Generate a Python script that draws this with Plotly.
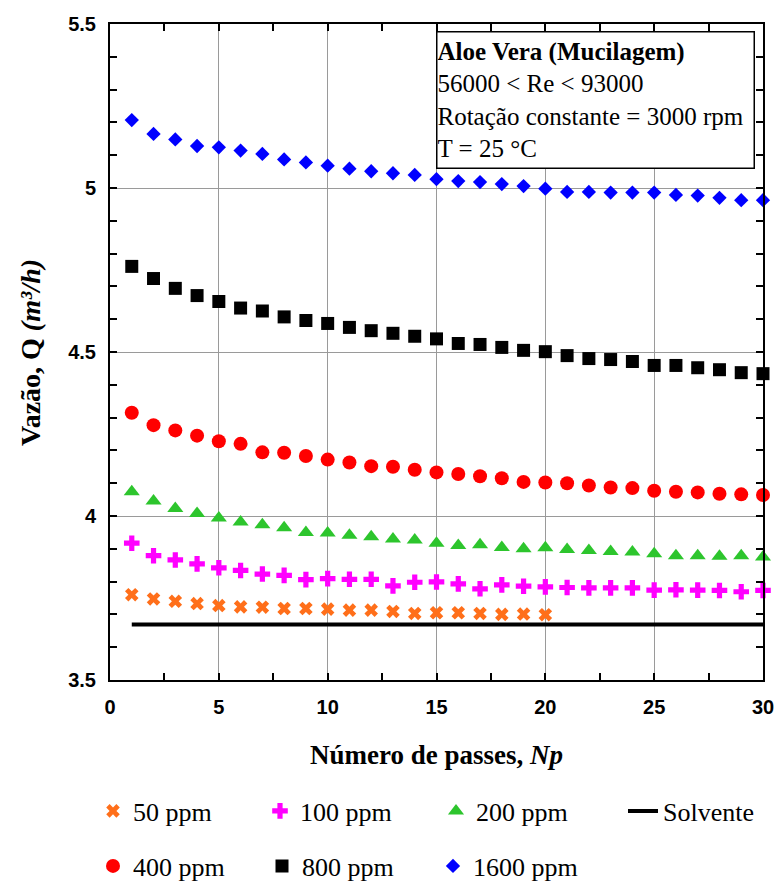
import plotly.graph_objects as go

np_passes = list(range(1, 31))
np_50 = list(range(1, 21))

q_50 = [3.760, 3.747, 3.740, 3.733, 3.727, 3.723, 3.722, 3.718, 3.718, 3.716,
        3.713, 3.713, 3.709, 3.703, 3.705, 3.705, 3.703, 3.700, 3.701, 3.699]
q_100 = [3.917, 3.879, 3.866, 3.854, 3.842, 3.834, 3.823, 3.819, 3.806, 3.809,
         3.807, 3.807, 3.787, 3.798, 3.799, 3.793, 3.778, 3.790, 3.786, 3.784,
         3.782, 3.781, 3.781, 3.781, 3.774, 3.775, 3.774, 3.773, 3.769, 3.773]
q_200 = [4.074, 4.046, 4.023, 4.008, 3.994, 3.982, 3.973, 3.964, 3.950, 3.948,
         3.941, 3.937, 3.930, 3.927, 3.917, 3.910, 3.912, 3.904, 3.900, 3.903,
         3.898, 3.895, 3.892, 3.890, 3.885, 3.879, 3.879, 3.877, 3.879, 3.875]
q_400 = [4.315, 4.277, 4.261, 4.245, 4.228, 4.220, 4.194, 4.193, 4.183, 4.172,
         4.163, 4.152, 4.150, 4.141, 4.133, 4.128, 4.121, 4.115, 4.104, 4.102,
         4.100, 4.093, 4.087, 4.085, 4.077, 4.074, 4.072, 4.068, 4.066, 4.064]
q_800 = [4.761, 4.724, 4.694, 4.672, 4.654, 4.634, 4.625, 4.607, 4.596, 4.587,
         4.575, 4.565, 4.557, 4.548, 4.540, 4.526, 4.523, 4.514, 4.505, 4.501,
         4.489, 4.480, 4.477, 4.471, 4.459, 4.459, 4.452, 4.446, 4.437, 4.434]
q_1600 = [5.207, 5.165, 5.148, 5.128, 5.124, 5.114, 5.104, 5.087, 5.078, 5.068,
          5.059, 5.051, 5.045, 5.040, 5.027, 5.021, 5.018, 5.012, 5.006, 4.998,
          4.988, 4.988, 4.986, 4.986, 4.986, 4.979, 4.977, 4.970, 4.963, 4.963]
solvente_np = [1, 30]
solvente_q = [3.669, 3.669]

x_ticks = [0, 5, 10, 15, 20, 25, 30]
y_ticks = [3.5, 4, 4.5, 5, 5.5]
y_ticklabels = ["3.5", "4", "4.5", "5", "5.5"]

W, H = 774, 885
L, R, T, B = 110, 11, 24, 205
pw, ph = W - L - R, H - T - B

def px_x(p):
    return (p - L) / pw

def px_y(p):
    return (H - B - p) / ph

serif = "Liberation Serif, Times New Roman, serif"
sans = "Liberation Sans, Arial, sans-serif"

fig = go.Figure()

series = [
    ("50 ppm", np_50, q_50, dict(symbol="x", size=12, color="#FF6F1A"), "legend", 110, 811),
    ("100 ppm", np_passes, q_100, dict(symbol="cross", size=13, color="#FF00FF"), "legend2", 277, 811),
    ("200 ppm", np_passes, q_200, dict(symbol="triangle-up", size=14, color="#2DC52D"), "legend3", 453, 811),
    ("400 ppm", np_passes, q_400, dict(symbol="circle", size=14, color="#FF0000"), "legend5", 110, 866),
    ("800 ppm", np_passes, q_800, dict(symbol="square", size=13, color="#000000"), "legend6", 279, 866),
    ("1600 ppm", np_passes, q_1600, dict(symbol="diamond", size=11, color="#0000FF"), "legend7", 450, 866),
]

legend_defs = {}
for name, xs, ys, mk, lg, lx, ly in series:
    fig.add_trace(go.Scatter(x=xs, y=ys, mode="markers", name=name,
                             marker=dict(line=dict(width=0), **mk), legend=lg,
                             cliponaxis=False))
    legend_defs[lg] = (lx, ly)

fig.add_trace(go.Scatter(x=solvente_np, y=solvente_q, mode="lines", name="Solvente",
                         line=dict(color="black", width=4), legend="legend4"))
legend_defs["legend4"] = (640, 811)

layout_legends = {}
for lg, (lx, ly) in legend_defs.items():
    layout_legends[lg] = dict(
        x=px_x(lx - 17), y=px_y(ly), xanchor="left", yanchor="middle",
        orientation="h", bgcolor="rgba(0,0,0,0)", borderwidth=0,
        font=dict(family=serif, size=26, color="black"),
        itemwidth=30,
    )

axis_common = dict(
    showline=True, linecolor="black", linewidth=2, mirror="allticks",
    ticks="inside", ticklen=7, tickwidth=1.5, tickcolor="black",
    showgrid=True, gridcolor="#9a9a9a", gridwidth=1, zeroline=False,
    automargin=False, ticklabeloverflow="allow",
    tickfont=dict(family=sans, size=20, color="black", weight="bold"),
)

fig.update_layout(
    width=W, height=H,
    margin=dict(l=L, r=R, t=T, b=B, autoexpand=False),
    paper_bgcolor="white", plot_bgcolor="white",
    showlegend=True,
    xaxis=dict(range=[0, 30], tickvals=x_ticks, ticktext=[str(v) for v in x_ticks],
               minor=dict(dtick=2.5, ticks="inside", ticklen=7, tickcolor="black", showgrid=False),
               ticklabelstandoff=8, **axis_common),
    yaxis=dict(range=[3.5, 5.5], tickvals=y_ticks, ticktext=y_ticklabels,
               minor=dict(dtick=0.1, ticks="inside", ticklen=7, tickcolor="black", showgrid=False),
               ticklabelstandoff=8, **axis_common),
    **layout_legends,
)

fig.add_annotation(
    xref="paper", yref="paper", x=px_x(437), y=px_y(755), xanchor="center", yanchor="middle",
    text="<b>Número de passes, <i>Np</i></b>", showarrow=False,
    font=dict(family=serif, size=27, color="black"),
)
fig.add_annotation(
    xref="paper", yref="paper", x=px_x(31), y=px_y(353), xanchor="center", yanchor="middle",
    text="<b>Vazão, Q <i>(m³/h)</i></b>", showarrow=False, textangle=-90,
    font=dict(family=serif, size=28, color="black"),
)
fig.add_annotation(
    xref="paper", yref="paper", x=px_x(436), y=px_y(31), xanchor="left", yanchor="top",
    text="<b>Aloe Vera (Mucilagem)</b><br>56000 &lt; Re &lt; 93000<br>Rotação constante = 3000 rpm<br>T = 25 °C",
    showarrow=False, align="left", valign="middle", width=316, height=135,
    bordercolor="black", borderwidth=1.5, borderpad=0, bgcolor="white",
    font=dict(family=serif, size=25, color="black"),
)

fig.write_html(
    "out.html",
    config={"displayModeBar": False},
    post_script="document.body.style.margin='0';document.body.style.overflow='hidden';",
)
